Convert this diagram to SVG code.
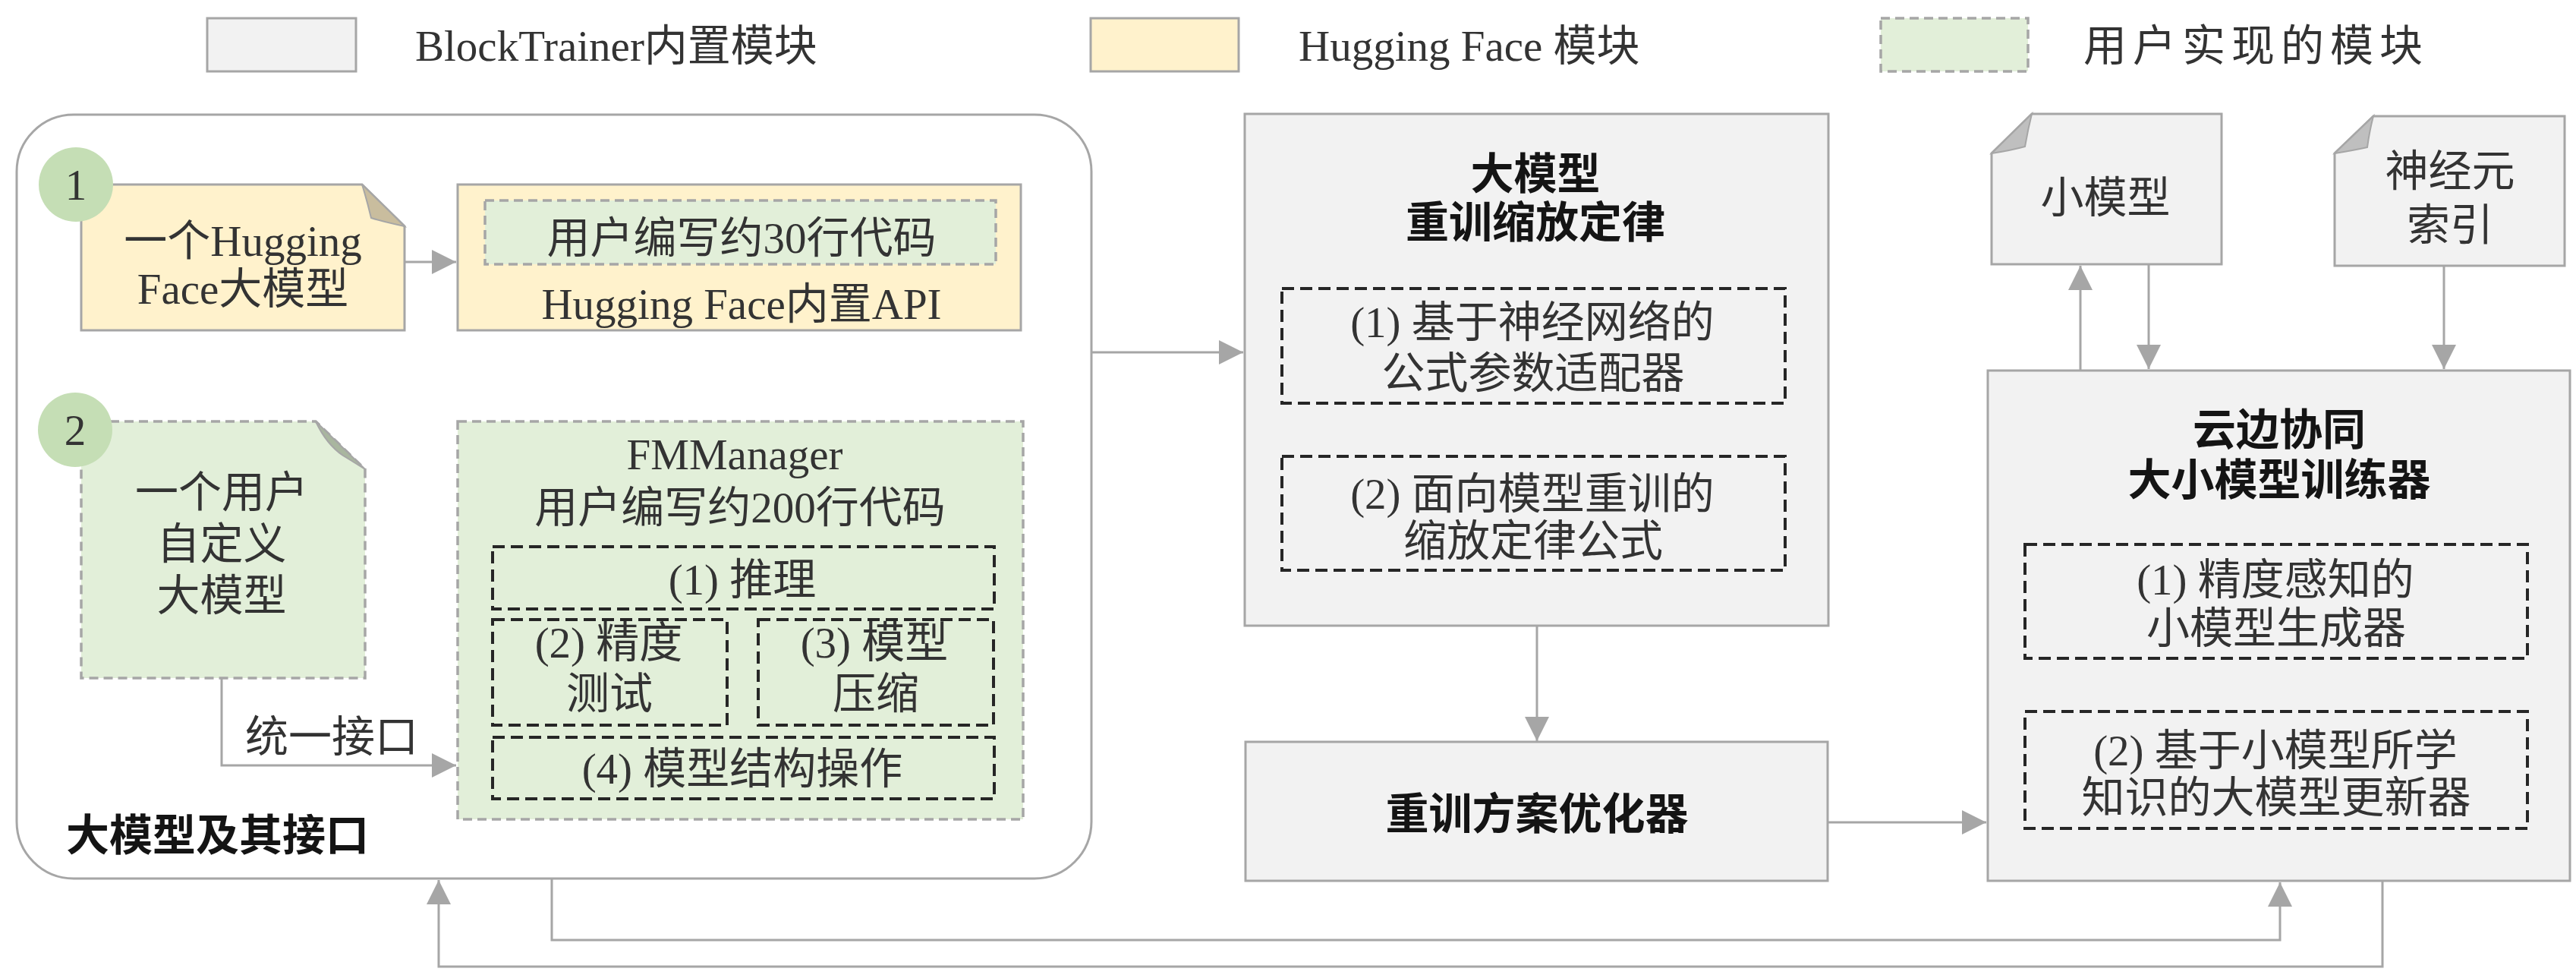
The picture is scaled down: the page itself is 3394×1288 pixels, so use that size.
<svg xmlns="http://www.w3.org/2000/svg" width="3394" height="1288" viewBox="0 0 3394 1288">
<defs>
<style>
.t{font-family:"Liberation Serif","Noto Sans CJK SC",serif;font-size:57px;fill:#333;text-anchor:middle}
.l{text-anchor:start}
.b{font-weight:bold;fill:#141414}
.gray{fill:#f2f2f2;stroke:#a6a6a6;stroke-width:3}
.yel{fill:#fff2cc;stroke:#a6a6a6;stroke-width:3}
.grn{fill:#e2efd9;stroke:#a6a6a6;stroke-width:3.5;stroke-dasharray:12 7}
.blk{fill:none;stroke:#262626;stroke-width:4;stroke-dasharray:16 8}
.cn{fill:none;stroke:#a6a6a6;stroke-width:3}
.cir{fill:#c5deb5}
</style>
<marker id="ah" markerUnits="userSpaceOnUse" markerWidth="32" markerHeight="32" refX="32" refY="16" orient="auto">
<path d="M0,0 L32,16 L0,32 Z" fill="#a6a6a6"/>
</marker>
</defs>
<rect width="3394" height="1288" fill="#ffffff"/>

<g id="legend">
<rect class="gray" x="273" y="24" width="196" height="70"/>
<text class="t l" x="547" y="80" fill="#222">BlockTrainer内置模块</text>
<rect class="yel" x="1437" y="24" width="195" height="70"/>
<text class="t l" x="1711" y="80">Hugging Face 模块</text>
<rect class="grn" x="2478" y="24" width="194" height="70"/>
<text class="t l" x="2745" y="80" letter-spacing="8">用户实现的模块</text>
</g>

<g id="container">
<rect x="22" y="151" width="1416" height="1006" rx="75" ry="75" fill="#ffffff" stroke="#a6a6a6" stroke-width="3"/>
<text class="t l b" x="87" y="1120">大模型及其接口</text>
</g>

<g id="connectors">
<path class="cn" d="M533,345 H601" marker-end="url(#ah)"/>
<path class="cn" d="M292,893 V1008 H601" marker-end="url(#ah)"/>
<path class="cn" d="M1438,464 H1638" marker-end="url(#ah)"/>
<path class="cn" d="M2022,531 V599" marker-end="url(#ah)"/>
<path class="cn" d="M2025,824 V976" marker-end="url(#ah)"/>
<path class="cn" d="M2408,1083 H2617" marker-end="url(#ah)"/>
<path class="cn" d="M2741,488 V350" marker-end="url(#ah)"/>
<path class="cn" d="M2831,349 V486" marker-end="url(#ah)"/>
<path class="cn" d="M3220,351 V486" marker-end="url(#ah)"/>
<path class="cn" d="M2998,867 V935" marker-end="url(#ah)"/>
<path class="cn" d="M727,1157 V1238 H3004 V1162" marker-end="url(#ah)"/>
<path class="cn" d="M3139,1160 V1273 H578 V1159" marker-end="url(#ah)"/>
</g>

<g id="hf-model">
<path class="yel" d="M107,243 H477 L533,298 V435 H107 Z"/>
<path d="M477,243 L533,298 Q505,292 489,287 Q483,262 477,243 Z" fill="#c9bd9e" stroke="#a6a6a6" stroke-width="2"/>
<text class="t" x="320" y="337">一个Hugging</text>
<text class="t" x="320" y="400">Face大模型</text>
</g>

<g id="circle1">
<circle class="cir" cx="100" cy="243" r="49"/>
<text class="t" x="100" y="263" fill="#111">1</text>
</g>

<g id="hf-api">
<rect class="yel" x="603" y="243" width="742" height="192"/>
<rect class="grn" x="639" y="264" width="673" height="84"/>
<text class="t" x="977" y="333">用户编写约30行代码</text>
<text class="t" x="977" y="420">Hugging Face内置API</text>
</g>

<g id="user-model">
<path class="grn" d="M107,555 H416 L481,618 V893 H107 Z"/>
<path d="M416,555 L481,618 Q462,606 452,600 Q430,585 416,555 Z" fill="#a9b69f" stroke="#a6a6a6" stroke-width="2"/>
<text class="t" x="292" y="668">一个用户</text>
<text class="t" x="292" y="736">自定义</text>
<text class="t" x="292" y="804">大模型</text>
</g>

<g id="circle2">
<circle class="cir" cx="99" cy="566" r="49"/>
<text class="t" x="99" y="586" fill="#111">2</text>
</g>

<g id="label-interface">
<text class="t" x="437" y="990">统一接口</text>
</g>

<g id="fmmanager">
<rect class="grn" x="603" y="555" width="745" height="524"/>
<text class="t" x="968" y="618" fill="#222">FMManager</text>
<text class="t" x="975" y="688">用户编写约200行代码</text>
<rect class="blk" x="649" y="720" width="661" height="82"/>
<text class="t" x="978" y="783">(1) 推理</text>
<rect class="blk" x="649" y="816" width="309" height="139"/>
<text class="t" x="802" y="866">(2) 精度</text>
<text class="t" x="803" y="933">测试</text>
<rect class="blk" x="999" y="816" width="310" height="139"/>
<text class="t" x="1152" y="866">(3) 模型</text>
<text class="t" x="1154" y="933">压缩</text>
<rect class="blk" x="649" y="971" width="661" height="81"/>
<text class="t" x="978" y="1032">(4) 模型结构操作</text>
</g>

<g id="scaling-law">
<rect class="gray" x="1640" y="150" width="769" height="674"/>
<text class="t b" x="2023" y="249">大模型</text>
<text class="t b" x="2023" y="313">重训缩放定律</text>
<rect class="blk" x="1689" y="380" width="663" height="151"/>
<text class="t" x="2019" y="444">(1) 基于神经网络的</text>
<text class="t" x="2020" y="511">公式参数适配器</text>
<rect class="blk" x="1689" y="601" width="663" height="150"/>
<text class="t" x="2019" y="670">(2) 面向模型重训的</text>
<text class="t" x="2020" y="732">缩放定律公式</text>
</g>

<g id="optimizer">
<rect class="gray" x="1641" y="977" width="767" height="183"/>
<text class="t b" x="2025" y="1092">重训方案优化器</text>
</g>

<g id="small-model">
<path class="gray" d="M2677,150 H2927 V348 H2624 V202 Z"/>
<path d="M2677,150 L2624,202 Q2650,198 2668,193 Q2672,170 2677,150 Z" fill="#bfbfbf" stroke="#a6a6a6" stroke-width="2"/>
<text class="t" x="2774" y="280">小模型</text>
</g>

<g id="neuron-index">
<path class="gray" d="M3127,153 H3379 V350 H3076 V202 Z"/>
<path d="M3127,153 L3076,202 Q3101,198 3119,194 Q3122,172 3127,153 Z" fill="#bfbfbf" stroke="#a6a6a6" stroke-width="2"/>
<text class="t" x="3228" y="245">神经元</text>
<text class="t" x="3228" y="316">索引</text>
</g>

<g id="trainer">
<rect class="gray" x="2619" y="488" width="767" height="672"/>
<text class="t b" x="3003" y="586">云边协同</text>
<text class="t b" x="3003" y="652">大小模型训练器</text>
<rect class="blk" x="2668" y="717" width="662" height="150"/>
<text class="t" x="2998" y="783">(1) 精度感知的</text>
<text class="t" x="2999" y="847">小模型生成器</text>
<rect class="blk" x="2668" y="937" width="662" height="154"/>
<text class="t" x="2998" y="1008">(2) 基于小模型所学</text>
<text class="t" x="2999" y="1070">知识的大模型更新器</text>
</g>
</svg>
